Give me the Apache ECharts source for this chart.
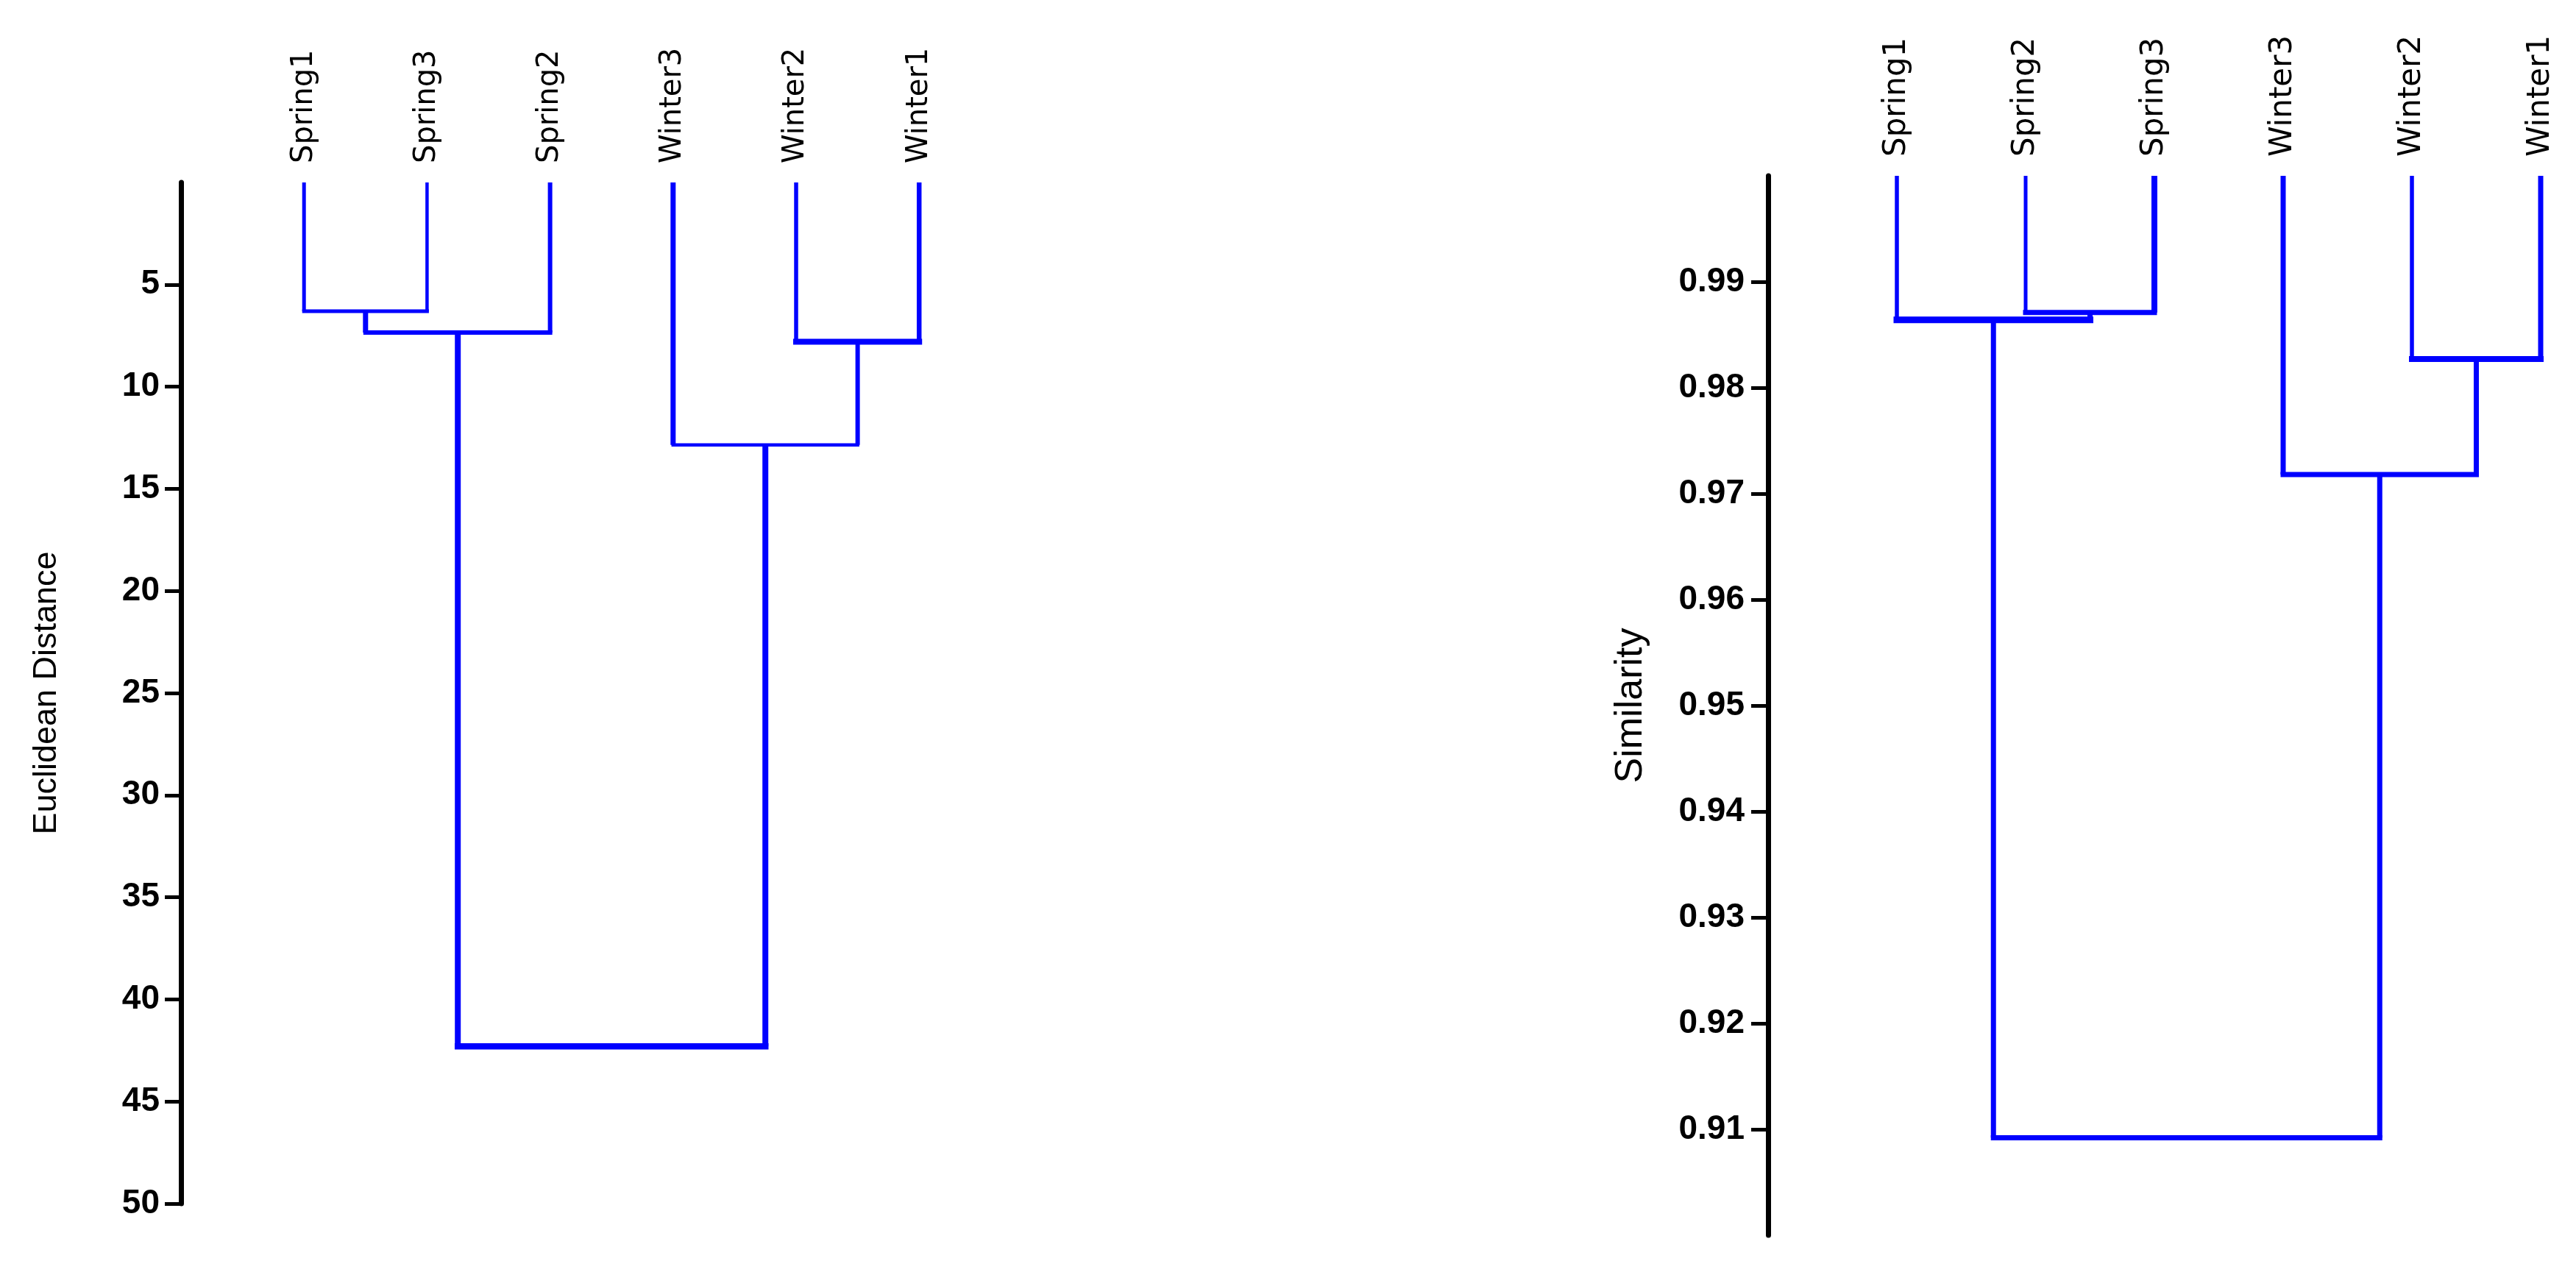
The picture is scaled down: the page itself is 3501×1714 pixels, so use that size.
<!DOCTYPE html>
<html>
<head>
<meta charset="utf-8">
<script src="https://cdn.jsdelivr.net/npm/echarts@6/dist/echarts.min.js"></script>
<style>
html,body{margin:0;padding:0;background:#ffffff;}
#c{width:3501px;height:1714px;}
</style>
</head>
<body>
<div id="c"></div>
<script>
// ---------- Data ----------
// Left dendrogram: Euclidean distance
const leftLeaves = ['Spring1', 'Spring3', 'Spring2', 'Winter3', 'Winter2', 'Winter1'];
// merge pairs: indices < 6 are leaves, 6+k is the k-th merge
const leftMergePairs = [[0, 1], [6, 2], [4, 5], [3, 8], [7, 9]];
const leftMergeHeights = [6.3, 7.35, 7.8, 12.85, 42.3];
const leftLeafHeight = 0;
const leftTicks = [5, 10, 15, 20, 25, 30, 35, 40, 45, 50];

// Right dendrogram: Similarity
const rightLeaves = ['Spring1', 'Spring2', 'Spring3', 'Winter3', 'Winter2', 'Winter1'];
const rightMergePairs = [[1, 2], [0, 6], [4, 5], [3, 8], [7, 9]];
const rightMergeHeights = [0.9871, 0.9864, 0.9827, 0.9718, 0.9092];
const rightLeafHeight = 1.0;
const rightTicks = [0.91, 0.92, 0.93, 0.94, 0.95, 0.96, 0.97, 0.98, 0.99];

// ---------- Styles ----------
// [left vertical, horizontal bar, right vertical] line widths per merge
const leftLinkWidths = [[5, 5, 4.5], [7, 6, 6], [5.5, 8, 6.5], [7, 4.5, 6], [8, 8.5, 8]];
const rightLinkWidths = [[5, 7, 8], [5.5, 9, 7], [5.5, 8, 7], [7, 7, 7], [7, 7, 7]];
const BLUE = '#0000ff';

function seg(data, width, cap, gi) {
  return {
    type: 'line', xAxisIndex: gi, yAxisIndex: gi, data: data,
    symbol: 'none', silent: true, animation: false, clip: false,
    lineStyle: { color: BLUE, width: width, cap: cap, join: 'miter' }
  };
}

function buildLinks(leaves, pairs, heights, leafHeight, widths, gi) {
  const pos = leaves.map((_, i) => i);
  const hts = leaves.map(() => leafHeight);
  const out = [];
  pairs.forEach((p, k) => {
    const a = p[0], b = p[1], h = heights[k], w = widths[k];
    const xa = pos[a], xb = pos[b];
    out.push(seg([[xa, hts[a]], [xa, h]], w[0], 'butt', gi));
    out.push(seg([[xb, hts[b]], [xb, h]], w[2], 'butt', gi));
    out.push(seg([[xa, h], [xb, h]], w[1], 'square', gi));
    pos.push((xa + xb) / 2);
    hts.push(h);
  });
  return out;
}

function leafAxis(gi, leaves, max) {
  return {
    type: 'value', gridIndex: gi, position: 'top', min: -1, max: max, interval: 1,
    axisLine: { show: false, onZero: false }, axisTick: { show: false }, splitLine: { show: false },
    axisLabel: {
      customValues: leaves.map((_, i) => i),
      rotate: -90, margin: 26, fontSize: gi === 0 ? 40 : 42,
      fontFamily: 'DejaVu Sans', color: '#000',
      formatter: function (v) {
        const i = Math.round(v);
        return (Math.abs(v - i) < 1e-6 && leaves[i]) ? leaves[i] : '';
      }
    }
  };
}

function valueAxis(gi, opts) {
  return Object.assign({
    type: 'value', gridIndex: gi, position: 'left',
    axisLine: { show: true, onZero: false, lineStyle: { color: '#000', width: 7 } },
    splitLine: { show: false },
    nameLocation: 'middle'
  }, opts);
}

const chart = echarts.init(document.getElementById('c'), null, { renderer: 'canvas' });
chart.setOption({
  backgroundColor: '#ffffff',
  animation: false,
  grid: [
    { left: 246, top: 248, width: 1086.8, height: 1388, outerBoundsMode: 'none', containLabel: false },
    { left: 2403, top: 239, width: 1085, height: 1440, outerBoundsMode: 'none', containLabel: false }
  ],
  xAxis: [leafAxis(0, leftLeaves, 5.5), leafAxis(1, rightLeaves, 5.2)],
  yAxis: [
    valueAxis(0, {
      inverse: true, min: 0, max: 50, interval: 5,
      axisTick: { show: true, length: 22, customValues: leftTicks, lineStyle: { color: '#000', width: 5 } },
      axisLabel: { customValues: leftTicks, margin: 29, fontSize: 46, fontWeight: 'bold',
        fontFamily: 'Liberation Sans', color: '#000' },
      name: 'Euclidean Distance', nameGap: 160,
      nameTextStyle: { fontSize: 45, fontFamily: 'Liberation Sans', color: '#000' }
    }),
    valueAxis(1, {
      min: 0.9, max: 1.0, interval: 0.01,
      axisTick: { show: true, length: 23, customValues: rightTicks, lineStyle: { color: '#000', width: 5 } },
      axisLabel: { customValues: rightTicks, margin: 32, fontSize: 46, fontWeight: 'bold',
        fontFamily: 'Liberation Sans', color: '#000',
        formatter: function (v) { return v.toFixed(2); } },
      name: 'Similarity', nameGap: 160,
      nameTextStyle: { fontSize: 52, fontFamily: 'Liberation Sans', color: '#000' }
    })
  ],
  series: [].concat(
    buildLinks(leftLeaves, leftMergePairs, leftMergeHeights, leftLeafHeight, leftLinkWidths, 0),
    buildLinks(rightLeaves, rightMergePairs, rightMergeHeights, rightLeafHeight, rightLinkWidths, 1)
  )
});
</script>
</body>
</html>
